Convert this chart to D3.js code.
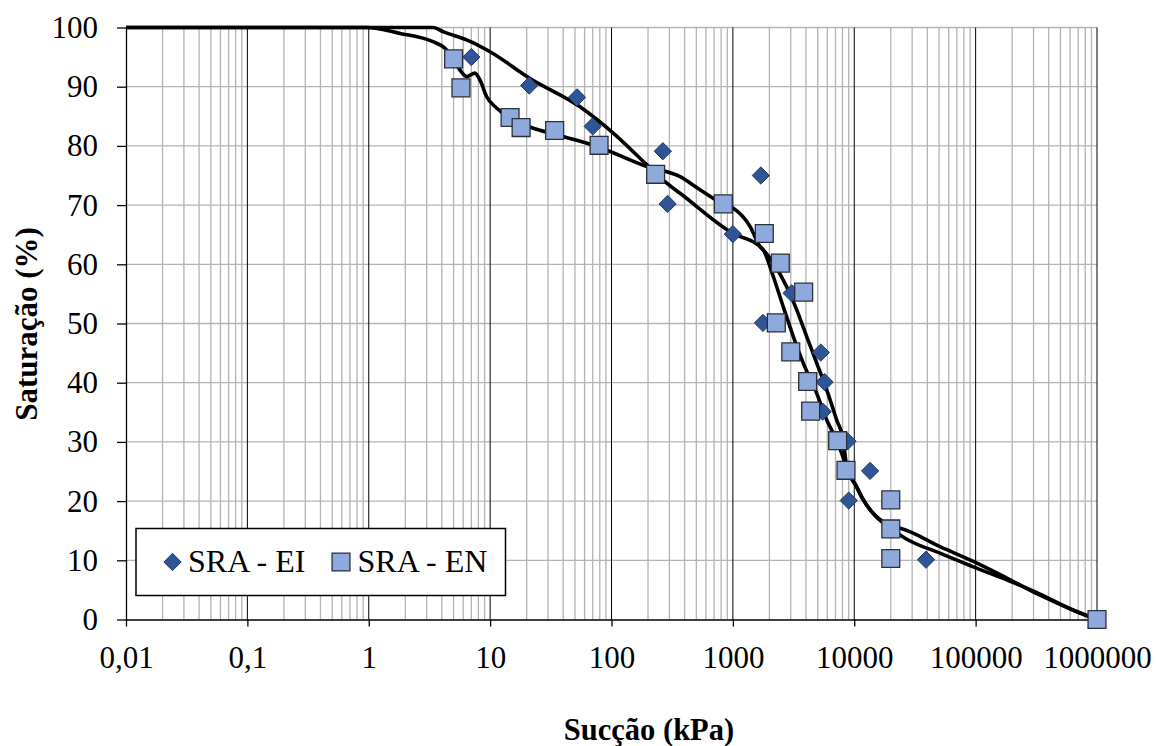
<!DOCTYPE html>
<html><head><meta charset="utf-8">
<script src="https://cdn.jsdelivr.net/npm/d3@7"></script>
<style>
html,body{margin:0;padding:0;background:#fff;}
svg{display:block;}
</style></head>
<body><svg id="c" width="1156" height="746"></svg>
<script>
// ---- data ----
const xTickValues = [0.01, 0.1, 1, 10, 100, 1000, 10000, 100000, 1000000];
const xTickLabels = ["0,01","0,1","1","10","100","1000","10000","100000","1000000"];
const yTickValues = [0,10,20,30,40,50,60,70,80,90,100];

const eiSuction = [7, 21, 52, 70, 265, 290, 1000, 1700, 3050, 1770, 5300, 5700, 5500, 8800, 13500, 9000, 39000];
const eiSat     = [95, 90.2, 88.2, 83.3, 79.1, 70.2, 65.1, 75, 55.1, 50.1, 45.1, 40.1, 35.1, 30.1, 25.1, 20.1, 10.1];

const enSuction = [5, 5.75, 14.6, 18, 34, 79, 231, 834, 1815, 2460, 3830, 2280, 3000, 4130, 4375, 7300, 8550, 20000, 20000, 20000, 1000000];
const enSat     = [94.7, 89.8, 84.8, 83.1, 82.6, 80.1, 75.2, 70.2, 65.2, 60.2, 55.3, 50.1, 45.2, 40.2, 35.2, 30.2, 25.2, 20.2, 15.3, 10.3, 0];

const enFitSuction = [0.01, 0.96, 1.81, 3.38, 4.25, 5.0, 5.65, 6.45, 7.5, 8.26, 9.37, 11.3, 15.4, 21.3, 39.8, 76, 196, 367, 536, 830, 1002, 1384, 1674, 1782, 2155, 2603, 3148, 3802, 4906, 5931, 7166, 8664, 10470, 11880, 14350, 19720, 23830, 50840, 95700, 180300, 339000, 634000, 1000000];
const enFitSat     = [100, 100, 99.0, 97.6, 96.5, 94.7, 92.8, 91.7, 92.3, 91.1, 88.3, 86.4, 84.4, 83.2, 81.6, 79.9, 76.5, 74.8, 72.6, 70.2, 69.5, 66.4, 63.0, 62.4, 57.9, 52.8, 47.8, 43.3, 38.2, 33.7, 30.3, 25.8, 22.4, 20.2, 17.9, 15.7, 14.3, 11.2, 8.9, 6.7, 4.3, 1.6, 0];

const eiFitSuction = [0.01, 3.4, 4.09, 6.41, 9.98, 21.3, 55, 102.8, 196, 285, 367, 1004, 1674, 2155, 2775, 3357, 4056, 4906, 5931, 7166, 8128, 8664, 10470, 11880, 14350, 19720, 23830, 50840, 95700, 180300, 339000, 634000, 1000000];
const eiFitSat     = [100, 100, 99.3, 97.9, 95.9, 91.4, 86.6, 82.2, 76.8, 73.7, 72.0, 65.2, 63.0, 60.2, 56.2, 52.3, 47.8, 43.3, 38.8, 33.7, 30.3, 25.8, 22.4, 20.2, 17.9, 15.7, 15.4, 12.3, 9.8, 7.0, 4.1, 1.6, 0];

const seriesNames = ["SRA - EI", "SRA - EN"];
const xTitle = "Sucção (kPa)";
const yTitle = "Saturação (%)";

// ---- chart ----
const SERIF = "Liberation Serif";
const svg = d3.select("#c");
const L = 126, R = 1097, T = 27.5, B = 619.5;
const x = d3.scaleLog().domain([0.01, 1e6]).range([L, R]);
const y = d3.scaleLinear().domain([0, 100]).range([B, T]);
const FONT = 31;

// minor vertical grid
const minor = [];
for (let d = -2; d < 6; d++) for (let k = 2; k <= 9; k++) minor.push(k * Math.pow(10, d));
svg.append("g").selectAll("line").data(minor).join("line")
  .attr("x1", d => x(d)).attr("x2", d => x(d)).attr("y1", T).attr("y2", B)
  .attr("stroke", "#b3b3b3").attr("stroke-width", 1.3);
// horizontal grid
svg.append("g").selectAll("line").data(yTickValues.filter(v => v > 0)).join("line")
  .attr("x1", L).attr("x2", R).attr("y1", d => y(d)).attr("y2", d => y(d))
  .attr("stroke", "#b3b3b3").attr("stroke-width", 1.3);
// major vertical grid
svg.append("g").selectAll("line").data(xTickValues.slice(1)).join("line")
  .attr("x1", d => x(d)).attr("x2", d => x(d)).attr("y1", T).attr("y2", B)
  .attr("stroke", "#000").attr("stroke-width", 1);

// axes
const yAxis = d3.axisLeft(y).tickValues(yTickValues).tickSize(9).tickSizeOuter(0).tickPadding(19);
const gy = svg.append("g").attr("transform", `translate(${L},0)`).call(yAxis);
gy.select(".domain").attr("stroke", "#000").attr("stroke-width", 1.3);
gy.selectAll(".tick line").attr("stroke", "#000").attr("stroke-width", 1.3);
gy.selectAll(".tick text").style("font-family", SERIF).style("font-size", FONT + "px").attr("fill", "#000");

const xAxis = d3.axisBottom(x).tickValues(xTickValues).tickFormat((d, i) => xTickLabels[i])
  .tickSize(7).tickSizeOuter(0).tickPadding(19);
const gx = svg.append("g").attr("transform", `translate(0,${B})`).call(xAxis);
gx.select(".domain").attr("stroke", "#000").attr("stroke-width", 1.3);
gx.selectAll(".tick line").attr("stroke", "#000").attr("stroke-width", 1.3);
gx.selectAll(".tick text").style("font-family", SERIF).style("font-size", FONT + "px").attr("fill", "#000");

// fitted curves
const line = d3.line().x(d => x(d[0])).y(d => y(d[1])).curve(d3.curveMonotoneX);
const enFit = enFitSuction.map((s, i) => [s, enFitSat[i]]);
const eiFit = eiFitSuction.map((s, i) => [s, eiFitSat[i]]);
[enFit, eiFit].forEach(dat => {
  svg.append("path").datum(dat).attr("d", line).attr("fill", "none")
    .attr("stroke", "#000").attr("stroke-width", 3.6).attr("stroke-linejoin", "round");
});

// markers
const diamond = d3.symbol().type(d3.symbolDiamond2).size(190);
const square = d3.symbol().type(d3.symbolSquare).size(320);
const DFILL = "#2f5597", DSTROKE = "#1f3864", SFILL = "#8eaadc", SSTROKE = "#2a2f3a";

svg.append("g").selectAll("path").data(eiSuction.map((s, i) => [s, eiSat[i]])).join("path")
  .attr("transform", d => `translate(${x(d[0])},${y(d[1])})`)
  .attr("d", diamond).attr("fill", DFILL).attr("stroke", DSTROKE).attr("stroke-width", 1);
svg.append("g").selectAll("path").data(enSuction.map((s, i) => [s, enSat[i]])).join("path")
  .attr("transform", d => `translate(${x(d[0])},${y(d[1])})`)
  .attr("d", square).attr("fill", SFILL).attr("stroke", SSTROKE).attr("stroke-width", 1.3);

// legend
const lg = svg.append("g");
lg.append("rect").attr("x", 136).attr("y", 528.5).attr("width", 369.5).attr("height", 67)
  .attr("fill", "#fff").attr("stroke", "#000").attr("stroke-width", 1.5);
lg.append("path").attr("transform", "translate(172.5,562)").attr("d", diamond)
  .attr("fill", DFILL).attr("stroke", DSTROKE).attr("stroke-width", 1);
lg.append("text").attr("x", 188).attr("y", 572).style("font-family", SERIF).style("font-size", "32px").text(seriesNames[0]);
lg.append("path").attr("transform", "translate(341,562)").attr("d", square)
  .attr("fill", SFILL).attr("stroke", SSTROKE).attr("stroke-width", 1.3);
lg.append("text").attr("x", 357.5).attr("y", 572).style("font-family", SERIF).style("font-size", "32px").text(seriesNames[1]);

// titles
svg.append("text").attr("x", 649).attr("y", 740).attr("text-anchor", "middle")
  .style("font-family", SERIF).style("font-weight", "bold").style("font-size", "30.5px").text(xTitle);
svg.append("text").attr("transform", "translate(37,324) rotate(-90)").attr("text-anchor", "middle")
  .style("font-family", SERIF).style("font-weight", "bold").style("font-size", "31px").text(yTitle);
</script></body></html>
